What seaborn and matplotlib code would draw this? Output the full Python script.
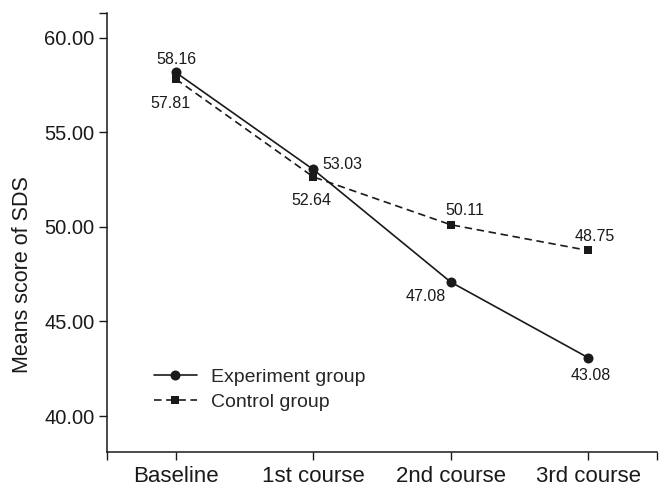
import numpy as np
import pandas as pd
import matplotlib
matplotlib.use('Agg')
import matplotlib.pyplot as plt
import seaborn as sns

# data
courses = ['Baseline', '1st course', '2nd course', '3rd course']
experiment = [58.16, 53.03, 47.08, 43.08]
control = [57.81, 52.64, 50.11, 48.75]
y_ticks = [40, 45, 50, 55, 60]

sns.set_style('ticks')
plt.rcParams['font.family'] = ['Liberation Sans', 'DejaVu Sans']

df = pd.DataFrame({
    'course': courses * 2,
    'score': experiment + control,
    'group': ['Experiment group'] * 4 + ['Control group'] * 4,
})

fig = plt.figure(figsize=(6.7, 4.96), dpi=100)
ax = fig.add_axes([0.1597, 0.0887, 0.8209, 0.8851])

# experiment group - solid line with circles
sns.lineplot(data=df[df['group'] == 'Experiment group'], x='course', y='score',
             color='#1a1a1a', marker='o', markersize=7.2, linewidth=1.2,
             markeredgewidth=0, label='Experiment group', ax=ax, sort=False)
# control group - dashed line with squares
sns.lineplot(data=df[df['group'] == 'Control group'], x='course', y='score',
             color='#1a1a1a', marker='s', markersize=6, linewidth=1.2,
             markeredgewidth=0, linestyle=(0, (4.5, 2.8)),
             label='Control group', ax=ax, sort=False)

ax.set_xlim(-0.5, 3.5)
ax.set_ylim(38.1, 61.3)
ax.set_yticks(y_ticks)
ax.set_yticklabels([f'{v:.2f}' for v in y_ticks])
ax.set_xticks(range(len(courses)))
ax.set_xticklabels(courses)
# small ticks at spine ends like the original
ax.set_xticks([-0.5, 3.5], minor=True)
ax.set_yticks([61.3], minor=True)

ax.tick_params(which='both', direction='out', length=6, width=1.0, color='#1a1a1a')
ax.tick_params(axis='x', labelsize=16, pad=4, labelcolor='#1a1a1a')
ax.tick_params(axis='y', labelsize=14.5, pad=3, labelcolor='#1a1a1a')

for side in ['top', 'right']:
    ax.spines[side].set_visible(False)
for side in ['left', 'bottom']:
    ax.spines[side].set_linewidth(1.1)
    ax.spines[side].set_color('#1a1a1a')

ax.set_xlabel('')
ax.set_ylabel('Means score of SDS', fontsize=15.5, color='#1a1a1a')
ax.yaxis.set_label_coords(-0.135, 0.405)

# value labels: (dx, dy) in points, alignment
exp_offsets = [((0.7, 6), 'center', 'baseline'),
               ((6.5, 3.4), 'left', 'center'),
               ((-18, -5), 'center', 'top'),
               ((1.5, -7.5), 'center', 'top')]
ctl_offsets = [((-3.5, -12.5), 'center', 'top'),
               ((-1.4, -11.5), 'center', 'top'),
               ((10, 7), 'center', 'baseline'),
               ((5, 7), 'center', 'baseline')]

for i, v in enumerate(experiment):
    (dx, dy), ha, va = exp_offsets[i]
    ax.annotate(f'{v:.2f}', (i, v), xytext=(dx, dy), textcoords='offset points',
                ha=ha, va=va, fontsize=11.5, color='#1a1a1a')
for i, v in enumerate(control):
    (dx, dy), ha, va = ctl_offsets[i]
    ax.annotate(f'{v:.2f}', (i, v), xytext=(dx, dy), textcoords='offset points',
                ha=ha, va=va, fontsize=11.5, color='#1a1a1a')

handles, labels = ax.get_legend_handles_labels()
ax.legend(handles, labels, loc='center left', bbox_to_anchor=(0.0855, 0.142),
          frameon=False, fontsize=14, handlelength=2.2, handletextpad=0.75,
          labelspacing=0.4, borderpad=0, borderaxespad=0)

plt.savefig('out.png', dpi=100)
